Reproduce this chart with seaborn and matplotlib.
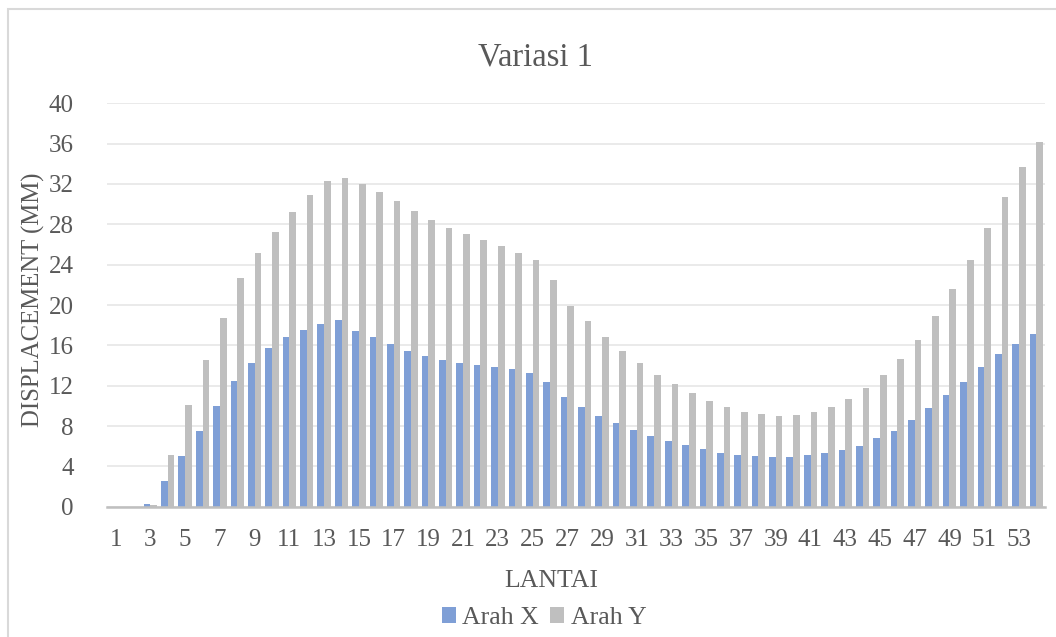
import matplotlib
matplotlib.use("Agg")
import matplotlib.pyplot as plt
import pandas as pd
import seaborn as sns
from matplotlib.patches import Rectangle

# Storey numbers and displacement per direction (mm)
lantai = list(range(1, 55))
arah_x = [0.00, 0.00, 0.26, 2.58, 5.02, 7.50, 9.95, 12.46, 14.28, 15.70,
          16.83, 17.52, 18.15, 18.51, 17.39, 16.83, 16.13, 15.44, 14.94, 14.55,
          14.28, 14.05, 13.85, 13.65, 13.29, 12.33, 10.88, 9.88, 8.99, 8.30,
          7.60, 7.04, 6.51, 6.08, 5.72, 5.36, 5.12, 4.99, 4.92, 4.92,
          5.09, 5.29, 5.62, 6.05, 6.78, 7.54, 8.56, 9.75, 11.04, 12.40,
          13.82, 15.14, 16.13, 17.09]
arah_y = [0.00, 0.00, 0.13, 5.16, 10.08, 14.51, 18.71, 22.68, 25.16, 27.27,
          29.22, 30.88, 32.30, 32.63, 32.03, 31.21, 30.28, 29.32, 28.43, 27.67,
          27.01, 26.41, 25.85, 25.19, 24.43, 22.48, 19.93, 18.38, 16.83, 15.44,
          14.21, 13.06, 12.13, 11.27, 10.48, 9.88, 9.42, 9.16, 8.99, 9.09,
          9.36, 9.88, 10.68, 11.74, 13.02, 14.61, 16.53, 18.91, 21.55, 24.46,
          27.60, 30.74, 33.69, 36.20]
seri = ["Arah X", "Arah Y"]
warna = ["#7f9fd6", "#bfbfbf"]
y_ticks = list(range(0, 41, 4))
x_tick_labels = [str(v) for v in lantai[::2]]

judul = "Variasi 1"
label_x = "LANTAI"
label_y = "DISPLACEMENT (MM)"

df = pd.DataFrame({
    "lantai": lantai * 2,
    "arah": [seri[0]] * len(lantai) + [seri[1]] * len(lantai),
    "displacement": arah_x + arah_y,
})

sns.set_theme(style="white")
plt.rcParams["font.family"] = ["Liberation Serif", "DejaVu Serif"]
teks = "#595959"

fig = plt.figure(figsize=(10.56, 6.37), dpi=100)
ax = fig.add_axes([107 / 1056, 130.3 / 637, (1045 - 107) / 1056, (533.7 - 130.3) / 637])

sns.barplot(data=df, x="lantai", y="displacement", hue="arah",
            hue_order=seri, palette=warna, width=0.77, saturation=1,
            errorbar=None, linewidth=0, ax=ax, zorder=2)

ax.set_ylim(0, 40)
ax.set_xlim(-0.5, len(lantai) - 0.5)
ax.set_yticks(y_ticks)
ax.set_yticklabels([str(v) for v in y_ticks])
ax.set_xticks(range(0, len(lantai), 2))
ax.set_xticklabels(x_tick_labels)
ax.tick_params(axis="both", length=0, labelsize=18, labelcolor=teks)
ax.tick_params(axis="x", pad=16)
ax.tick_params(axis="y", pad=24)
ax.set_xlabel("")
ax.set_ylabel("")

ax.yaxis.grid(True, color="#e6e6e6", linewidth=1.2, zorder=0)
ax.set_axisbelow(True)
for side in ["top", "right", "left"]:
    ax.spines[side].set_visible(False)
ax.spines["bottom"].set_color("#bfbfbf")
ax.spines["bottom"].set_linewidth(1.8)
ax.spines["bottom"].set_zorder(3)

fig.text(536 / 1056, (637 - 65) / 637, judul, ha="center", va="baseline",
         fontsize=23.5, color=teks)
fig.text(551 / 1056, (637 - 586.7) / 637, label_x, ha="center", va="baseline",
         fontsize=18.5, color=teks)
fig.text(33 / 1056, (637 - 300) / 637, label_y, ha="center", va="center",
         rotation=90, fontsize=17.8, color=teks)

sns.move_legend(ax, "center", bbox_to_anchor=(544 / 1056, (637 - 618) / 637),
                bbox_transform=fig.transFigure, ncol=2, frameon=False,
                title=None, fontsize=18.5, labelcolor=teks,
                handlelength=0.54, handleheight=0.54, handletextpad=0.25,
                columnspacing=0.45, borderpad=0)

# Light outer frame of the chart area
fig.patches.append(Rectangle((8 / 1056, -0.1), 1.2, 1.1 - 9 / 637,
                             transform=fig.transFigure, fill=False,
                             edgecolor="#d9d9d9", linewidth=1.5))

fig.savefig("out.png", dpi=100)
